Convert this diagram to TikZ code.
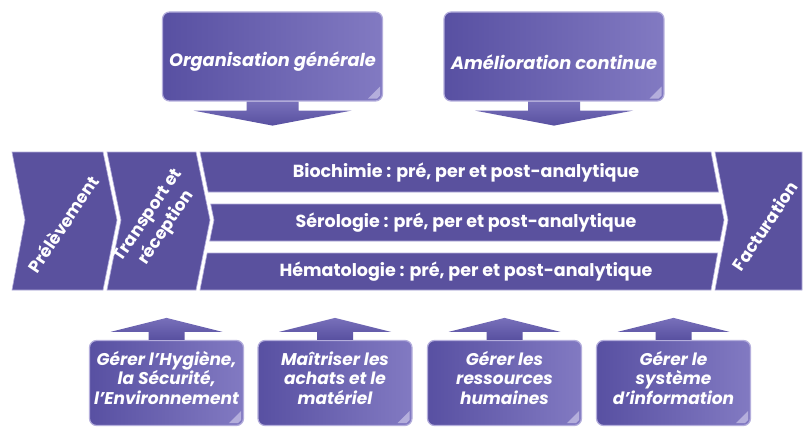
\documentclass[tikz,border=0pt]{standalone}
\usepackage{fontspec}
\setmainfont{Poppins}
\usetikzlibrary{calc}
\definecolor{procfill}{RGB}{90,81,158}
\definecolor{boxdark}{RGB}{88,80,162}
\definecolor{boxlight}{RGB}{130,122,194}
\definecolor{edgelight}{RGB}{180,174,220}
\definecolor{arrowtop}{RGB}{120,112,186}
\definecolor{arrowbot}{RGB}{88,80,160}
\begin{document}
\begin{tikzpicture}[x=1pt,y=-1pt,
  boxbase/.style={draw=edgelight, line width=1.2pt, rounded corners=7pt,
    left color=boxdark, right color=boxlight, inner sep=0pt},
  topbox/.style={boxbase, minimum width=220pt, minimum height=89pt},
  botbox/.style={boxbase, minimum width=154pt, minimum height=85pt},
  boxtext/.style={text=white, font=\bfseries\itshape\fontsize{17}{19.5}\selectfont, align=center, inner sep=0pt},
  topboxtext/.style={boxtext, font=\bfseries\itshape\fontsize{17.8}{20}\selectfont},
  proc/.style={fill=procfill, draw=edgelight, line width=0.6pt},
  proctext/.style={text=white, font=\bfseries\fontsize{17.5}{19}\selectfont, align=center, inner sep=0pt},
  rottext/.style={text=white, font=\bfseries\fontsize{17}{22}\selectfont, align=center, inner sep=0pt},
  blockarrow/.style={top color=arrowtop, bottom color=arrowbot, draw=none},
  fold/.style={fill=edgelight, draw=none}
]
\fill[white] (0,0) rectangle (804,428);
\useasboundingbox (0,0) rectangle (804,428);

% top boxes
\node[topbox] (org) at (272.5,56.5) {};
\node[topboxtext] (orgt) at (272.5,62) {Organisation générale};
\node[topbox] (ame) at (554,56.5) {};
\node[topboxtext] (amet) at (554,62) {Amélioration continue};

% bottom boxes
\node[botbox] (hse) at (166.5,383) {};
\node[boxtext] (hset) at (166.5,378) {Gérer l'Hygiène,\\la Sécurité,\\l'Environnement};
\node[botbox] (ach) at (335,383) {};
\node[boxtext] (acht) at (335,378) {Maîtriser les\\achats et le\\matériel};
\node[botbox] (rh) at (504.5,383) {};
\node[boxtext] (rht) at (504.5,378) {Gérer les\\ressources\\humaines};
\node[botbox] (si) at (673.5,383) {};
\node[boxtext] (sit) at (673.5,378) {Gérer le\\système\\d'information};

% folded corners
\foreach \b in {org,ame,hse,ach,rh,si}{
  \fill[fold] ($(\b.south east)+(-15,-3)$) -- ($(\b.south east)+(-3,-15)$) -- ($(\b.south east)+(-3,-6)$) -- ($(\b.south east)+(-6,-3)$) -- cycle;
}

% top block arrows (down)
\foreach \b in {org,ame}{
  \path[blockarrow] ($(\b.south)+(-26,0)$) -- ($(\b.south)+(-26,9)$) -- ($(\b.south)+(-79,9)$)
    -- ($(\b.south)+(0,24)$) -- ($(\b.south)+(79,9)$) -- ($(\b.south)+(26,9)$) -- ($(\b.south)+(26,0)$) -- cycle;
}
% bottom block arrows (up)
\foreach \b in {hse,ach,rh,si}{
  \path[blockarrow] ($(\b.north)+(-18,0)$) -- ($(\b.north)+(-18,-8)$) -- ($(\b.north)+(-56,-8)$)
    -- ($(\b.north)+(0,-22)$) -- ($(\b.north)+(56,-8)$) -- ($(\b.north)+(18,-8)$) -- ($(\b.north)+(18,0)$) -- cycle;
}

% process chevrons
\path[proc] (12,152) -- (103,152) -- (117,220) -- (103,290) -- (12,290) -- (25,220) -- cycle;
\node[rottext, rotate=56] (prel) at (63,224) {Prélèvement};
\path[proc] (107,152) -- (196,152) -- (210,220) -- (196,290) -- (107,290) -- (121,220) -- cycle;
\node[rottext, rotate=56] (trans) at (158,222) {Transport et\\réception};

% analytic bars
\path[proc] (200,152) -- (711,152) -- (718.6,192) -- (208.2,192) -- cycle;
\node[proctext] (bio) at (466,172.5) {Biochimie : pré, per et post-analytique};
\path[proc] (210.7,204) -- (720.9,204) -- (724,220) -- (720,241) -- (209.7,241) -- (214,220) -- cycle;
\node[proctext] (sero) at (466,222.5) {Sérologie : pré, per et post-analytique};
\path[proc] (207.2,253) -- (717.7,253) -- (711,290) -- (200,290) -- cycle;
\node[proctext] (hema) at (466,271.5) {Hématologie : pré, per et post-analytique};

% facturation
\path[proc] (715,152) -- (802,152) -- (802,290) -- (715,290) -- (728,220) -- cycle;
\node[rottext, rotate=56] (fact) at (765,226) {Facturation};
\end{tikzpicture}
\end{document}
